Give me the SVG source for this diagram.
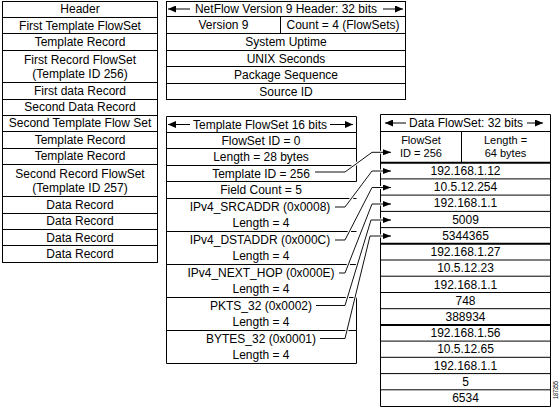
<svg xmlns="http://www.w3.org/2000/svg" width="559" height="408" viewBox="0 0 559 408">
<style>
text{font-family:"Liberation Sans",Arial,sans-serif;font-size:12px;fill:#000;text-anchor:middle}
.s{font-size:11px}
.b{fill:#fff;stroke:#000;stroke-width:1}
.l{stroke:#000;stroke-width:1;fill:none}
.k{stroke:#000;stroke-width:2;fill:none}
.h{stroke:#fff;stroke-width:3;fill:none}
.c{stroke:#111;stroke-width:1;fill:none;marker-end:url(#ah)}
.ha{stroke:#000;stroke-width:1;fill:none;marker-end:url(#hh)}
</style>
<defs>
<marker id="ah" markerUnits="userSpaceOnUse" markerWidth="8" markerHeight="6" refX="8" refY="3" orient="auto"><path d="M0,0 L8,3 L0,6 z" fill="#000"/></marker>
<marker id="hh" markerUnits="userSpaceOnUse" markerWidth="8" markerHeight="7" refX="8" refY="3.5" orient="auto"><path d="M0,0 L8,3.5 L0,7 z" fill="#000"/></marker>
</defs>
<rect width="559" height="408" fill="#fff"/>

<g id="packet-layout">
<rect class="b" x="2.5" y="1.5" width="155" height="261"/>
<path class="l" d="M2.5,17.5H157.5M2.5,33.5H157.5M2.5,50.5H157.5M2.5,82.5H157.5M2.5,99.5H157.5M2.5,115.5H157.5M2.5,131.5H157.5M2.5,148.5H157.5M2.5,164.5H157.5M2.5,196.5H157.5M2.5,213.5H157.5M2.5,229.5H157.5M2.5,245.5H157.5"/>
<text x="80" y="13.3">Header</text>
<text x="80" y="29.6">First Template FlowSet</text>
<text x="80" y="45.9">Template Record</text>
<text x="80" y="64.2">First Record FlowSet</text>
<text x="80" y="78.2">(Template ID 256)</text>
<text x="80" y="94.8">First data Record</text>
<text x="80" y="111.1">Second Data Record</text>
<text x="80" y="127.4">Second Template Flow Set</text>
<text x="80" y="143.7">Template Record</text>
<text x="80" y="160">Template Record</text>
<text x="80" y="177.5">Second Record FlowSet</text>
<text x="80" y="191.5">(Template ID 257)</text>
<text x="80" y="208.9">Data Record</text>
<text x="80" y="225.2">Data Record</text>
<text x="80" y="241.5">Data Record</text>
<text x="80" y="257.8">Data Record</text>
</g>

<g id="netflow-header">
<rect class="b" x="166.5" y="1.5" width="239" height="98"/>
<path class="l" d="M166.5,16.5H405.5M166.5,33.5H405.5M166.5,50.5H405.5M166.5,66.5H405.5M166.5,83.5H405.5M280.5,16.5V33.5"/>
<path class="ha" d="M190,9H168"/>
<path class="ha" d="M383,9H403"/>
<text x="286" y="13.2">NetFlow Version 9 Header: 32 bits</text>
<text x="223.5" y="29.3">Version 9</text>
<text x="343" y="29.3">Count = 4 (FlowSets)</text>
<text x="286" y="46.3">System Uptime</text>
<text x="286" y="62.8">UNIX Seconds</text>
<text x="286" y="79.3">Package Sequence</text>
<text x="286" y="95.8">Source ID</text>
</g>

<g id="template-flowset">
<path class="l" d="M166.5,116.5V363.5H356.5V297.5M356.5,181.5V116.5H166.5"/>
<path class="l" d="M166.5,132.5H356.5M166.5,148.5H356.5M166.5,165.5H356.5M166.5,181.5H356.5M166.5,198.5H356.5M166.5,231.5H356.5M166.5,264.5H356.5M166.5,297.5H356.5M166.5,330.5H356.5"/>
<path class="ha" d="M190,124.5H168"/>
<path class="ha" d="M330,124.5H353"/>
<text x="260" y="128.7">Template FlowSet 16 bits</text>
<text x="261" y="144.7">FlowSet ID = 0</text>
<text x="261" y="161.1">Length = 28 bytes</text>
<text x="261" y="177.7">Template ID = 256</text>
<text x="261" y="193.8">Field Count = 5</text>
<text x="260" y="210.7">IPv4_SRCADDR (0x0008)</text>
<text x="261" y="227.2">Length = 4</text>
<text x="260" y="243.7">IPv4_DSTADDR (0x000C)</text>
<text x="261" y="260.2">Length = 4</text>
<text x="261" y="276.7">IPv4_NEXT_HOP (0x000E)</text>
<text x="261" y="293.2">Length = 4</text>
<text x="261" y="309.7">PKTS_32 (0x0002)</text>
<text x="261" y="326.2">Length = 4</text>
<text x="261" y="342.7">BYTES_32 (0x0001)</text>
<text x="261" y="359.2">Length = 4</text>
</g>

<g id="data-flowset">
<path class="l" d="M380.5,114.5H550.5V406.5H380.5Z"/>
<path class="l" d="M380.5,131.5H550.5M461.5,131.5V162.7M380.5,178.9H550.5M380.5,195.1H550.5M380.5,211.4H550.5M380.5,227.6H550.5M380.5,260H550.5M380.5,276.2H550.5M380.5,292.5H550.5M380.5,308.7H550.5M380.5,341.1H550.5M380.5,357.3H550.5M380.5,373.6H550.5M380.5,389.8H550.5"/>
<path class="k" d="M380.5,162.7H550.5M380.5,243.8H550.5M380.5,324.9H550.5"/>
<path class="ha" d="M406,123H385"/>
<path class="ha" d="M527,123H543"/>
<text x="466" y="127.2">Data FlowSet: 32 bits</text>
<text class="s" x="421" y="144.3">FlowSet</text>
<text class="s" x="421" y="157.4">ID = 256</text>
<text class="s" x="505.5" y="144.3">Length =</text>
<text class="s" x="505.5" y="157.4">64 bytes</text>
<text x="465.5" y="175">192.168.1.12</text>
<text x="465.5" y="191.2">10.5.12.254</text>
<text x="465.5" y="207.4">192.168.1.1</text>
<text x="465.5" y="223.7">5009</text>
<text x="465.5" y="239.9">5344365</text>
<text x="465.5" y="256.1">192.168.1.27</text>
<text x="465.5" y="272.3">10.5.12.23</text>
<text x="465.5" y="288.5">192.168.1.1</text>
<text x="465.5" y="304.8">748</text>
<text x="465.5" y="321">388934</text>
<text x="465.5" y="337.2">192.168.1.56</text>
<text x="465.5" y="353.4">10.5.12.65</text>
<text x="465.5" y="369.6">192.168.1.1</text>
<text x="465.5" y="385.9">5</text>
<text x="465.5" y="402.1">6534</text>
</g>

<g id="connectors">
<path class="h" d="M315,172H345L372,152.3H384"/>
<path class="h" d="M335,207H345L372,171H384"/>
<path class="h" d="M335,240H345L372,187.5H384"/>
<path class="h" d="M339,273H345L372,204H384"/>
<path class="h" d="M316,305.5H345L371,220H384"/>
<path class="h" d="M320,338.5H345L370,236H384"/>
<path class="c" d="M315,172H345L372,152.3H391"/>
<path class="c" d="M335,207H345L372,171H391"/>
<path class="c" d="M335,240H345L372,187.5H391"/>
<path class="c" d="M339,273H345L372,204H391"/>
<path class="c" d="M316,305.5H345L371,220H391"/>
<path class="c" d="M320,338.5H345L370,236H391"/>
</g>

<text x="0" y="0" transform="translate(557.5,390) rotate(-90)" style="font-size:7px" textLength="18" lengthAdjust="spacingAndGlyphs">187355</text>
</svg>
